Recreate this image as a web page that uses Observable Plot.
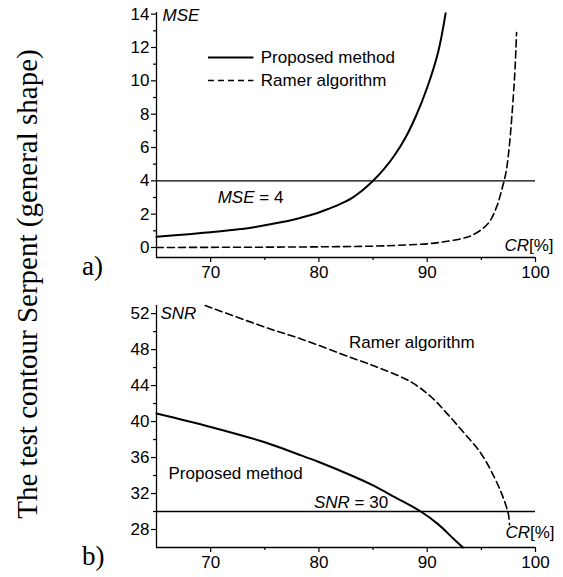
<!DOCTYPE html>
<html><head><meta charset="utf-8">
<script src="https://cdn.jsdelivr.net/npm/d3@7"></script>
<script src="https://cdn.jsdelivr.net/npm/@observablehq/plot@0.6"></script>
<style>
html,body{margin:0;padding:0;background:#fff;}
#wrap{position:relative;width:563px;height:577px;overflow:hidden;background:#fff;}
#top,#bottom{position:absolute;left:0;}
#top{top:0;} #bottom{top:290px;}
.serif{position:absolute;font-family:"Liberation Serif","Times New Roman",serif;color:#000;white-space:nowrap;line-height:1;}
#ytitle{left:27px;top:284px;font-size:29px;transform:translate(-50%,-50%) rotate(-90deg);}
#la{left:82px;top:253px;font-size:27px;}
#lb{left:82px;top:543px;font-size:27px;}
</style></head><body>
<div id="wrap">
  <div id="top"></div>
  <div id="bottom"></div>
  <div class="serif" id="ytitle">The test contour Serpent (general shape)</div>
  <div class="serif" id="la">a)</div>
  <div class="serif" id="lb">b)</div>
</div>
<script>
// ---- data ----
const xMajor = [70, 80, 90, 100];
const xMinor = [75, 85, 95];

// a) MSE
const mseProposedCR = [65, 68, 70, 72, 74, 76, 78, 80, 81, 82, 83, 84, 85, 86, 87, 88, 89, 90, 91, 91.7];
const mseProposed   = [0.65, 0.8, 0.92, 1.05, 1.22, 1.45, 1.73, 2.1, 2.35, 2.62, 2.95, 3.42, 4.0, 4.7, 5.55, 6.6, 7.95, 9.6, 11.7, 14.05];
const mseRamerCR = [65, 70, 75, 80, 85, 88, 90, 91.3, 93.1, 94.1, 95.6, 96.4, 96.9, 97.3, 97.6, 97.9, 98.1, 98.25];
const mseRamer   = [0.0, 0.01, 0.02, 0.04, 0.08, 0.15, 0.22, 0.32, 0.52, 0.72, 1.42, 2.42, 3.5, 4.6, 6.2, 8.6, 10.6, 12.9];
const mseMajor = [0, 2, 4, 6, 8, 10, 12, 14];
const mseMinor = [1, 3, 5, 7, 9, 11, 13];
const mseThreshold = [4];

// b) SNR
const snrProposedCR = [65, 70, 75, 78, 80, 83, 85, 87, 89.4, 91, 92.4, 93.3];
const snrProposed   = [40.9, 39.4, 37.7, 36.4, 35.5, 34.0, 32.9, 31.6, 30.0, 28.6, 27.0, 26.0];
const snrRamerCR = [69.5, 75, 78.3, 83, 85.7, 88.5, 90.4, 91.9, 93.5, 95.0, 96.2, 97.0, 97.5, 97.6];
const snrRamer   = [52.9, 50.5, 49.2, 47.1, 45.9, 44.4, 42.7, 40.8, 38.6, 36.4, 33.8, 31.6, 29.7, 28.5];
const snrMajor = [28, 32, 36, 40, 44, 48, 52];
const snrMinor = [30, 34, 38, 42, 46, 50];
const snrThreshold = [30];

const sans = "'Liberation Sans', Arial, Helvetica, sans-serif";
const zip = (xs, ys) => xs.map((x, i) => ({x, y: ys[i]}));

function axes(yDomain, yMajor, yMinor) {
  return [
    Plot.ruleX([65], {y1: yDomain[0], y2: yDomain[1], stroke: "#000", strokeWidth: 1.3}),
    Plot.ruleY([yDomain[0]], {x1: 65, x2: 100, stroke: "#000", strokeWidth: 1.3}),
    Plot.axisX({ticks: xMajor, tickSize: 5, tickPadding: 3, tickFormat: d => String(d), label: null, stroke: "#000", strokeWidth: 1.2}),
    Plot.axisX({ticks: xMinor, tickSize: 3, tickFormat: () => "", label: null, stroke: "#000", strokeWidth: 1.2}),
    Plot.axisY({ticks: yMajor, tickSize: 5, tickPadding: 2, tickFormat: d => String(d), label: null, stroke: "#000", strokeWidth: 1.2}),
    Plot.axisY({ticks: yMinor, tickSize: 3, tickFormat: () => "", label: null, stroke: "#000", strokeWidth: 1.2})
  ];
}

const styleObj = {fontFamily: sans, fontSize: "17px", color: "#000", background: "transparent", overflow: "visible"};

// ---- panel a ----
const mseDomain = [-0.6, 14.1];
const plotA = Plot.plot({
  width: 563, height: 290,
  marginLeft: 156, marginRight: 28, marginTop: 12, marginBottom: 33,
  style: styleObj,
  x: {domain: [65, 100]},
  y: {domain: mseDomain},
  marks: [
    ...axes(mseDomain, mseMajor, mseMinor),
    Plot.ruleY(mseThreshold, {x1: 65, x2: 100, stroke: "#000", strokeWidth: 1.3}),
    Plot.line(zip(mseProposedCR, mseProposed), {x: "x", y: "y", stroke: "#000", strokeWidth: 2, curve: "catmull-rom"}),
    Plot.line(zip(mseRamerCR, mseRamer), {x: "x", y: "y", stroke: "#000", strokeWidth: 1.6, strokeDasharray: "7,4", curve: "catmull-rom"}),
    // legend
    Plot.ruleY([11.4], {x1: 69.8, x2: 74.0, stroke: "#000", strokeWidth: 1.8}),
    Plot.ruleY([10.02], {x1: 69.8, x2: 74.0, stroke: "#000", strokeWidth: 1.4, strokeDasharray: "6,4"}),
    Plot.text(["Proposed method"], {x: 74.63, y: 11.4, text: d => d, textAnchor: "start", fill: "#000"}),
    Plot.text(["Ramer algorithm"], {x: 74.63, y: 10.02, text: d => d, textAnchor: "start", fill: "#000"}),
    // labels
    Plot.text(["MSE"], {x: 65.56, y: 13.92, text: d => d, textAnchor: "start", fontStyle: "italic", fill: "#000"}),
    Plot.text(["MSE = 4"], {x: 70.65, y: 3.0, text: d => d, textAnchor: "start", fill: "#000"}),
    Plot.text(["CR[%]"], {x: 101.67, y: 0.12, text: d => d, textAnchor: "end", fill: "#000"})
  ]
});

// ---- panel b ----
const snrDomain = [26, 52.9];
const plotB = Plot.plot({
  width: 563, height: 287,
  marginLeft: 156, marginRight: 28, marginTop: 15, marginBottom: 30,
  style: styleObj,
  x: {domain: [65, 100]},
  y: {domain: snrDomain},
  marks: [
    ...axes(snrDomain, snrMajor, snrMinor),
    Plot.ruleY(snrThreshold, {x1: 65, x2: 100, stroke: "#000", strokeWidth: 1.3}),
    Plot.line(zip(snrProposedCR, snrProposed), {x: "x", y: "y", stroke: "#000", strokeWidth: 2, curve: "catmull-rom"}),
    Plot.line(zip(snrRamerCR, snrRamer), {x: "x", y: "y", stroke: "#000", strokeWidth: 1.6, strokeDasharray: "7,4", curve: "catmull-rom"}),
    Plot.text(["SNR"], {x: 65.37, y: 52.0, text: d => d, textAnchor: "start", fontStyle: "italic", fill: "#000"}),
    Plot.text(["Ramer algorithm"], {x: 82.78, y: 48.78, text: d => d, textAnchor: "start", fill: "#000"}),
    Plot.text(["Proposed method"], {x: 66.11, y: 34.22, text: d => d, textAnchor: "start", fill: "#000"}),
    Plot.text(["SNR = 30"], {x: 79.54, y: 31.0, text: d => d, textAnchor: "start", fill: "#000"}),
    Plot.text(["CR[%]"], {x: 101.76, y: 27.67, text: d => d, textAnchor: "end", fill: "#000"})
  ]
});

function mixItalic(svg, full, ital) {
  svg.querySelectorAll("text").forEach(t => {
    if (t.textContent === full) {
      t.textContent = "";
      const ns = "http://www.w3.org/2000/svg";
      const a = document.createElementNS(ns, "tspan");
      a.setAttribute("font-style", "italic");
      a.textContent = ital;
      const b = document.createElementNS(ns, "tspan");
      b.textContent = full.slice(ital.length);
      t.append(a, b);
      t.setAttribute("xml:space", "preserve");
      t.style.whiteSpace = "pre";
    }
  });
}
[plotA, plotB].forEach(p => {
  mixItalic(p, "MSE = 4", "MSE");
  mixItalic(p, "SNR = 30", "SNR");
  mixItalic(p, "CR[%]", "CR");
});

document.getElementById("top").append(plotA);
document.getElementById("bottom").append(plotB);
</script>
</body></html>
